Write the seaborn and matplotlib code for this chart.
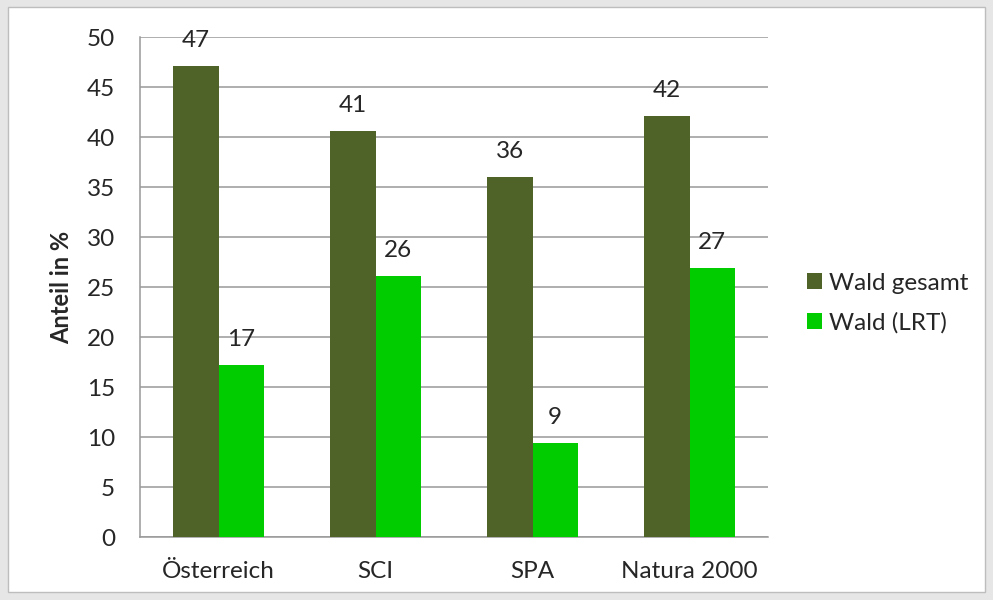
import matplotlib
matplotlib.use("Agg")
import matplotlib.pyplot as plt
import seaborn as sns
import pandas as pd
from matplotlib.patches import Rectangle

categories = ["Österreich", "SCI", "SPA", "Natura 2000"]
wald_gesamt = [47.1, 40.6, 36.0, 42.1]
wald_lrt = [17.2, 26.1, 9.4, 26.9]
series_names = ["Wald gesamt", "Wald (LRT)"]
colors = ["#4F6228", "#00CC00"]

df = pd.DataFrame({
    "Gebiet": categories * 2,
    "Serie": [series_names[0]] * 4 + [series_names[1]] * 4,
    "Wert": wald_gesamt + wald_lrt,
})

sns.set_style("white")
plt.rcParams["font.family"] = ["Lato", "DejaVu Sans"]

FS = 17.5
TXT = "#262626"
GRID = "#999999"

fig = plt.figure(figsize=(9.93, 6.0), dpi=100)
fig.patch.set_facecolor("#e6e6e6")
# white chart area with thin gray frame, drawn behind the axes
fig.patches.append(Rectangle((8 / 993, 8 / 600), 977 / 993, 585 / 600,
                             transform=fig.transFigure, facecolor="white",
                             edgecolor="#bdbdbd", linewidth=1, zorder=-10))

ax = fig.add_axes([140 / 993, 1 - 537 / 600, 628 / 993, 500 / 600])
ax.set_facecolor("none")

sns.barplot(data=df, x="Gebiet", y="Wert", hue="Serie", hue_order=series_names,
            palette=colors, width=0.574, saturation=1, linewidth=0,
            ax=ax, zorder=3)

for cont in ax.containers:
    ax.bar_label(cont, fmt="%.0f", padding=11, fontsize=FS, color=TXT)

ax.set_ylim(0, 50)
ax.set_yticks(range(0, 51, 5))
ax.set_xlim(-0.5, 3.5)
ax.yaxis.grid(True, color=GRID, linewidth=1.1, zorder=0)
ax.set_axisbelow(True)

for s in ["top", "right"]:
    ax.spines[s].set_visible(False)
for s in ["left", "bottom"]:
    ax.spines[s].set_color(GRID)
    ax.spines[s].set_linewidth(1.1)

ax.set_xticks([-0.5, 0.5, 1.5, 2.5, 3.5], minor=True)
ax.tick_params(axis="x", which="major", length=0, pad=17, labelsize=FS, colors=TXT)
ax.tick_params(axis="x", which="minor", length=6, color=GRID, width=1.1, direction="out")
ax.tick_params(axis="y", length=7, color=GRID, width=1.1, direction="out",
               labelsize=FS, labelcolor=TXT, pad=11)

ax.set_xlabel("")
ax.set_ylabel("Anteil in %", fontsize=17, fontweight="bold", color=TXT, labelpad=10)

ax.legend(loc="center left", bbox_to_anchor=(1.028, 0.468), frameon=False,
          fontsize=FS, handlelength=0.6, handleheight=0.6, handletextpad=0.3,
          labelspacing=0.75)

fig.savefig("out.png", dpi=100, facecolor=fig.get_facecolor())
